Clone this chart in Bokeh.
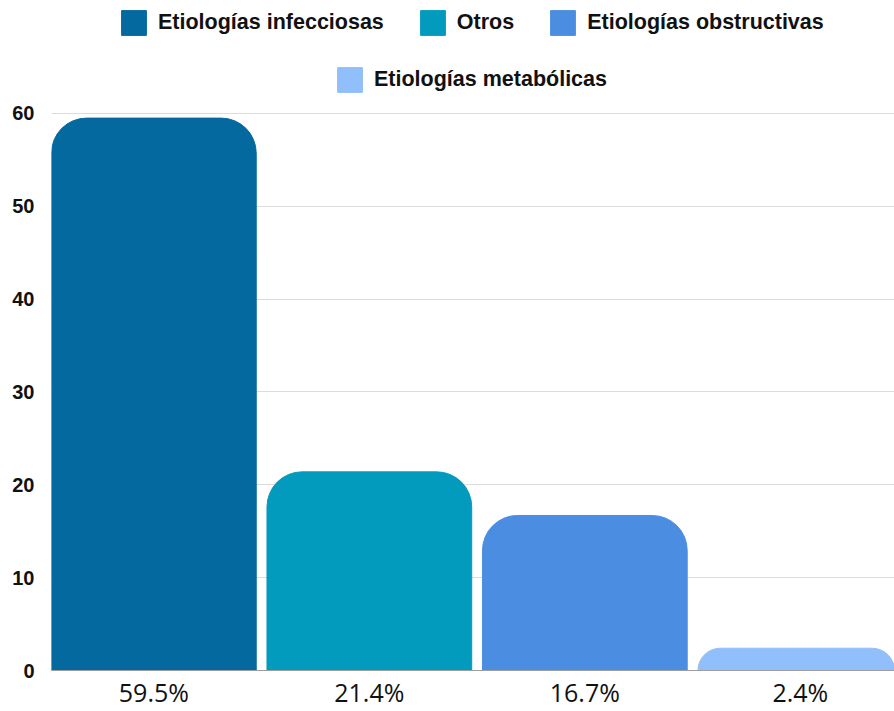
from bokeh.plotting import figure
from bokeh.models import ColumnDataSource, Range1d, FixedTicker, Legend, LegendItem
from bokeh.embed import file_html
from bokeh.resources import INLINE

categories = ["Etiologías infecciosas", "Otros", "Etiologías obstructivas", "Etiologías metabólicas"]
values = [59.5, 21.4, 16.7, 2.4]
tick_labels = ["59.5%", "21.4%", "16.7%", "2.4%"]
colors = ["#03699E", "#029BBD", "#4B8DE1", "#90BFFB"]
y_ticks = [0, 10, 20, 30, 40, 50, 60]

positions = list(range(len(categories)))
src = ColumnDataSource(dict(x=positions, top=values, cat=categories, color=colors))

# frame spans whole height above the axis so the legend rows (drawn inside the frame) are visible
p = figure(width=894, height=711, output_backend="svg", toolbar_location=None,
           x_range=Range1d(-0.475, 3.437), y_range=Range1d(0, 72.17),
           min_border_left=51, min_border_right=0, min_border_bottom=41, min_border_top=0)
p.outline_line_color = None
p.background_fill_color = "white"

r = p.vbar(x="x", top="top", width=0.95, fill_color="color", line_color="color",
           source=src, border_radius=(35, 35, 0, 0))

common = dict(orientation="horizontal",
              label_text_font="Liberation Sans", label_text_font_style="bold",
              label_text_font_size="21.5px", label_text_color="#111111",
              glyph_width=31, glyph_height=31, label_standoff=9, spacing=33,
              border_line_color=None, background_fill_alpha=0, padding=0, margin=0)

leg1 = Legend(items=[LegendItem(label=categories[i], renderers=[r], index=i) for i in range(3)],
              location=(67, 632), **common)
leg2 = Legend(items=[LegendItem(label=categories[3], renderers=[r], index=3)],
              location=(283, 575.5), **common)
p.add_layout(leg1)
p.add_layout(leg2)

p.xgrid.grid_line_color = None
p.ygrid.grid_line_color = "#dcdcdc"
p.ygrid.ticker = FixedTicker(ticks=y_ticks)

p.yaxis.ticker = FixedTicker(ticks=y_ticks)
p.yaxis.axis_line_color = None
p.yaxis.major_tick_line_color = None
p.yaxis.minor_tick_line_color = None
p.yaxis.major_tick_out = 0
p.yaxis.minor_tick_out = 0
p.yaxis.major_label_standoff = 17
p.yaxis.major_label_text_font = "Liberation Sans"
p.yaxis.major_label_text_font_style = "bold"
p.yaxis.major_label_text_font_size = "20px"
p.yaxis.major_label_text_color = "#111111"

p.xaxis.ticker = FixedTicker(ticks=positions)
p.xaxis.major_label_overrides = {i: t for i, t in zip(positions, tick_labels)}
p.xaxis.axis_line_color = "#9e9e9e"
p.xaxis.major_tick_line_color = None
p.xaxis.minor_tick_line_color = None
p.xaxis.major_tick_out = 0
p.xaxis.minor_tick_out = 0
p.xaxis.major_label_standoff = 4
p.xaxis.major_label_text_font = "Open Sans"
p.xaxis.major_label_text_font_size = "25px"
p.xaxis.major_label_text_color = "#111111"

open("out.html", "w").write(file_html(p, INLINE))
